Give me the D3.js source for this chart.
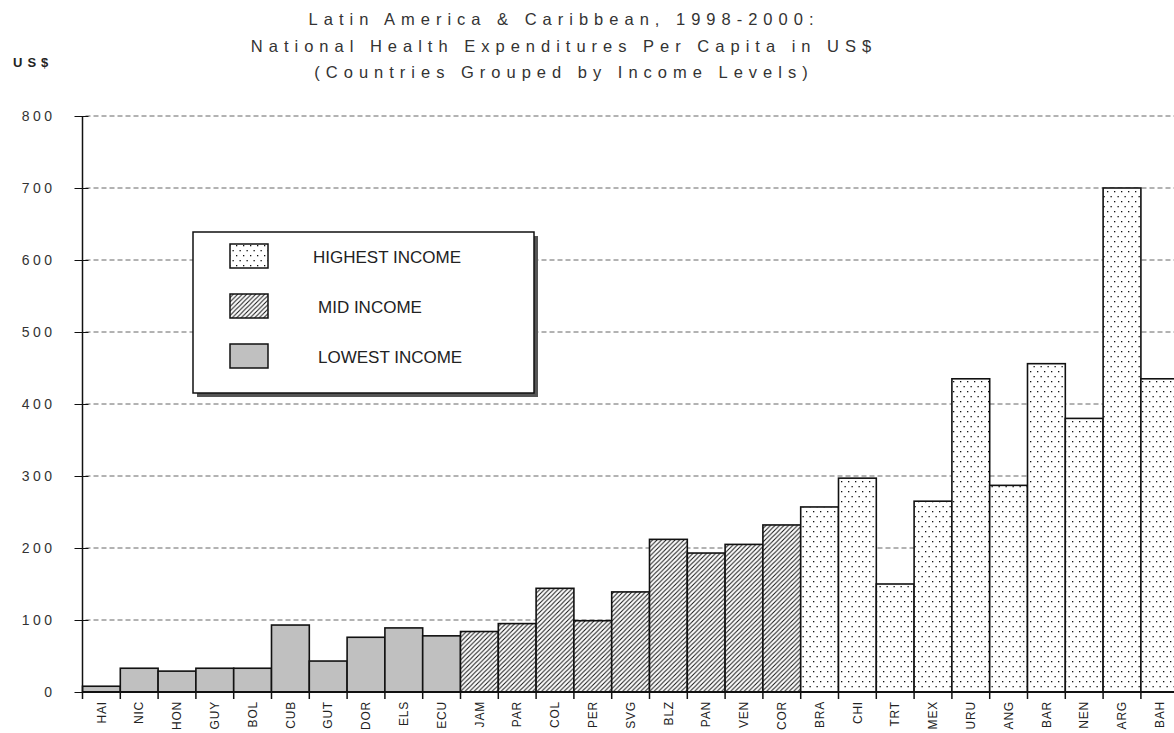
<!DOCTYPE html>
<html>
<head>
<meta charset="utf-8">
<script src="https://cdn.jsdelivr.net/npm/d3@7"></script>
<style>
  body { margin: 0; background: #fff; }
  svg { display: block; font-family: "Liberation Sans", Arial, sans-serif; }
</style>
</head>
<body>
<div id="chart"></div>
<script>
// data
const countries = ["HAI", "NIC", "HON", "GUY", "BOL", "CUB", "GUT", "DOR", "ELS", "ECU",
    "JAM", "PAR", "COL", "PER", "SVG", "BLZ", "PAN", "VEN", "COR",
    "BRA", "CHI", "TRT", "MEX", "URU", "ANG", "BAR", "NEN", "ARG", "BAH"]
const spending = [8, 33, 29, 33, 33, 93, 43, 76, 89, 78,
    84, 95, 144, 99, 139, 212, 193, 205, 232,
    257, 297, 150, 265, 435, 287, 456, 380, 700, 435]
const incomeGroup = ["low", "low", "low", "low", "low", "low", "low", "low", "low", "low",
    "mid", "mid", "mid", "mid", "mid", "mid", "mid", "mid", "mid",
    "high", "high", "high", "high", "high", "high", "high", "high", "high", "high"]
const legendKeys = ["high", "mid", "low"]
const legendLabels = ["HIGHEST INCOME", "MID INCOME", "LOWEST INCOME"]
const yTicks = [0, 100, 200, 300, 400, 500, 600, 700, 800]
const titleLines = ["Latin America & Caribbean, 1998-2000:",
    "National Health Expenditures Per Capita in US$",
    "(Countries Grouped by Income Levels)"]

const width = 1174
const height = 733
const x0 = 82.5
const bandW = 37.8

const svg = d3.select("#chart").append("svg")
    .attr("width", width)
    .attr("height", height)

const defs = svg.append("defs")
const hatch = defs.append("pattern")
    .attr("id", "hatch")
    .attr("patternUnits", "userSpaceOnUse")
    .attr("width", 4.5).attr("height", 4.5)
hatch.append("rect").attr("width", 4.5).attr("height", 4.5).attr("fill", "#fff")
hatch.append("path")
    .attr("d", "M-1,1 l2,-2 M0,4.5 l4.5,-4.5 M3.5,5.5 l2,-2")
    .attr("stroke", "#111").attr("stroke-width", 1)

// staggered dot grid
const dots = defs.append("pattern")
    .attr("id", "dots")
    .attr("patternUnits", "userSpaceOnUse")
    .attr("width", 7).attr("height", 10)
dots.append("rect").attr("width", 7).attr("height", 10).attr("fill", "#fff")
dots.append("rect").attr("x", 1).attr("y", 1).attr("width", 1.3).attr("height", 1.3).attr("fill", "#111")
dots.append("rect").attr("x", 4.5).attr("y", 6).attr("width", 1.3).attr("height", 1.3).attr("fill", "#111")

const fillFor = { low: "#c0c0c0", mid: "url(#hatch)", high: "url(#dots)" }

const x = d3.scaleBand()
    .domain(countries)
    .range([x0, x0 + bandW * countries.length])
    .padding(0)

const y = d3.scaleLinear()
    .domain([0, 800])
    .range([692, 116])

// title
svg.append("g")
    .selectAll("text")
    .data(titleLines)
    .join("text")
    .attr("x", 564)
    .attr("y", (d, i) => 25 + i * 26.5)
    .attr("text-anchor", "middle")
    .attr("font-size", 16.5)
    .attr("letter-spacing", 6)
    .attr("fill", "#333")
    .text(d => d)

svg.append("text")
    .attr("x", 13)
    .attr("y", 67)
    .attr("font-size", 13)
    .attr("font-weight", "bold")
    .attr("letter-spacing", 5)
    .attr("fill", "#222")
    .text("US$")

// gridlines
svg.append("g")
    .selectAll("line")
    .data(yTicks.filter(t => t > 0))
    .join("line")
    .attr("x1", x0 + 3)
    .attr("x2", width)
    .attr("y1", d => y(d))
    .attr("y2", d => y(d))
    .attr("stroke", "#666")
    .attr("stroke-dasharray", "5,3")

// bars
svg.append("g")
    .selectAll("rect")
    .data(countries)
    .join("rect")
    .attr("x", d => x(d))
    .attr("width", x.bandwidth())
    .attr("y", (d, i) => y(spending[i]))
    .attr("height", (d, i) => y(0) - y(spending[i]))
    .attr("fill", (d, i) => fillFor[incomeGroup[i]])
    .attr("stroke", "#111")
    .attr("stroke-width", 1.6)

// y axis
const yAxis = svg.append("g")
    .attr("transform", `translate(${x0},0)`)
    .call(d3.axisLeft(y).tickValues(yTicks).tickSize(0).tickPadding(27))
yAxis.select(".domain").remove()
yAxis.selectAll("text")
    .attr("font-size", 14)
    .attr("letter-spacing", 3.5)
    .attr("fill", "#333")
    .attr("font-family", "Liberation Sans, Arial, sans-serif")
yAxis.selectAll(".tick").append("line")
    .attr("x1", -8).attr("x2", 6)
    .attr("stroke", "#111")
yAxis.append("line")
    .attr("y1", y(800)).attr("y2", y(0) + 7)
    .attr("stroke", "#111").attr("stroke-width", 1.5)

// x axis
const xAxis = svg.append("g")
    .attr("transform", `translate(0,${y(0)})`)
    .call(d3.axisBottom(x).tickSize(0))
xAxis.select(".domain")
    .attr("d", `M${x0},0H${width}`)
    .attr("stroke", "#111")
    .attr("stroke-width", 2)
xAxis.selectAll("text")
    .attr("transform", "rotate(-90)")
    .attr("text-anchor", "end")
    .attr("x", -9)
    .attr("y", 0)
    .attr("dy", "0.35em")
    .attr("font-size", 12)
    .attr("letter-spacing", 0.8)
    .attr("fill", "#222")
    .attr("font-family", "Liberation Sans, Arial, sans-serif")
xAxis.append("g")
    .selectAll("line")
    .data(countries)
    .join("line")
    .attr("x1", d => x(d) + x.bandwidth())
    .attr("x2", d => x(d) + x.bandwidth())
    .attr("y1", 0).attr("y2", 7)
    .attr("stroke", "#111").attr("stroke-width", 1.5)

// legend
const legend = svg.append("g").attr("transform", "translate(193,232)")
legend.append("rect")
    .attr("x", 4).attr("y", 4)
    .attr("width", 341).attr("height", 161)
    .attr("fill", "#555")
legend.append("rect")
    .attr("width", 341).attr("height", 161)
    .attr("fill", "#fff")
    .attr("stroke", "#111").attr("stroke-width", 1.5)
const items = legend.selectAll(".item")
    .data(legendKeys)
    .join("g")
    .attr("class", "item")
    .attr("transform", (d, i) => `translate(0,${12 + i * 50})`)
items.append("rect")
    .attr("x", 37).attr("width", 38).attr("height", 24)
    .attr("fill", d => fillFor[d])
    .attr("stroke", "#111").attr("stroke-width", 1.5)
items.append("text")
    .attr("x", (d, i) => i === 0 ? 120 : 125)
    .attr("y", 19)
    .attr("font-size", 17)
    .attr("fill", "#222")
    .text((d, i) => legendLabels[i])
</script>
</body>
</html>
